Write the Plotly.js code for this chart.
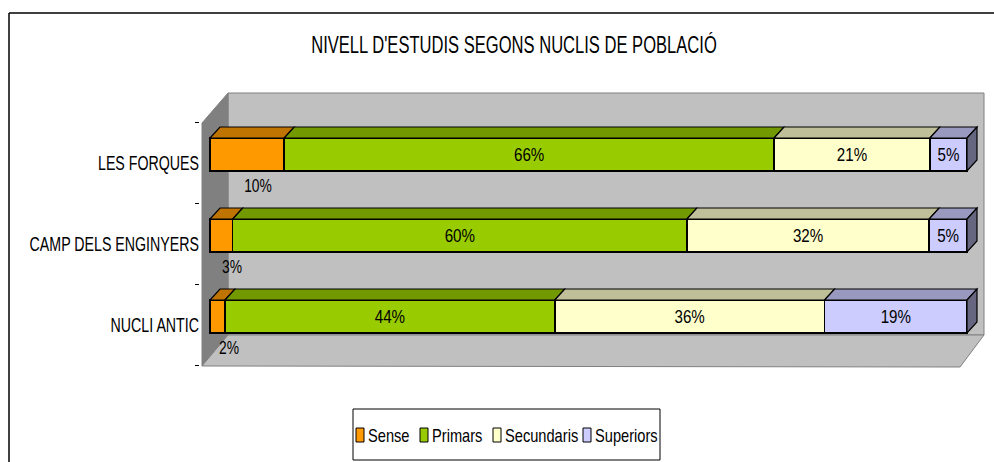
<!DOCTYPE html>
<html><head><meta charset="utf-8">
<script src="https://cdn.plot.ly/plotly-3.0.1.min.js"></script>
<style>
html,body{margin:0;padding:0;background:#fff;}
#chart{width:994px;height:462px;}
</style>
</head><body>
<div id="chart"></div>
<script>
// ---- data ----
const categories = ['NUCLI ANTIC', 'CAMP DELS ENGINYERS', 'LES FORQUES'];
const seriesNames = ['Sense', 'Primars', 'Secundaris', 'Superiors'];
const sense      = [2, 3, 10];
const primars    = [44, 60, 66];
const secundaris = [36, 32, 21];
const superiors  = [19, 5, 5];
const titleText = "NIVELL D'ESTUDIS SEGONS NUCLIS DE POBLACIÓ";

// ---- styles ----
const frontColors = ['#FF9900', '#99CC00', '#FFFFCC', '#CCCCFF'];
const topColors   = ['#BF7300', '#739900', '#BFBF99', '#9999BF'];
const sideColor   = '#666680';
const FONT = "'Liberation Sans', Arial, sans-serif";

// ---- layout geometry (pixels) ----
const W = 994, H = 462;
const M = {l: 200, r: 6, t: 85, b: 88};
const X0PX = 210, X100PX = 967;           // pixel of 0% and 100%
const Y2PX = 154.5, Y0PX = 316.5;         // pixel centre of top and bottom bar
const kx = (X100PX - X0PX) / 100;
const ky = (Y0PX - Y2PX) / 2;
const xRange = [(M.l - X0PX) / kx, (W - M.r - X0PX) / kx];
const yRange = [-((H - M.b) - Y0PX) / ky, 2 + (Y2PX - M.t) / ky];
const toX = px => (px - X0PX) / kx;
const toY = py => (Y0PX - py) / ky;
const PX = px => (px - M.l) / (W - M.l - M.r);
const PY = py => ((H - M.b) - py) / (H - M.t - M.b);
const BW = 33 / ky;                 // bar thickness
const DX = 10 / kx, DY = 11 / ky;   // depth offsets

const series = [sense, primars, secundaris, superiors];
const pos = categories.map((c, i) => i);

const traces = series.map((vals, s) => ({
  type: 'bar', orientation: 'h', name: seriesNames[s],
  x: vals, y: pos, width: BW,
  marker: {color: frontColors[s], line: {color: '#000', width: 1.5}},
  text: s === 0 ? vals.map(() => '') : vals.map(v => v + '%'),
  textposition: s === 0 ? 'none' : 'inside',
  insidetextanchor: 'middle',
  constraintext: 'none',
  textangle: 0,
  textfont: {family: FONT, size: 18, color: '#000'},
  hoverinfo: 'skip', showlegend: false, cliponaxis: false
}));

const shapes = [];
// back wall, side wall, floor
shapes.push({type: 'rect', xref: 'x', yref: 'y', layer: 'below',
  x0: toX(228), x1: toX(984), y0: toY(335), y1: toY(93),
  fillcolor: '#C0C0C0', line: {color: '#808080', width: 1}});
shapes.push({type: 'path', xref: 'x', yref: 'y', layer: 'below',
  path: `M${toX(202)},${toY(123)} L${toX(228)},${toY(93)} L${toX(228)},${toY(335)} L${toX(202)},${toY(366)} Z`,
  fillcolor: '#808080', line: {color: '#808080', width: 1}});
shapes.push({type: 'path', xref: 'x', yref: 'y', layer: 'below',
  path: `M${toX(202)},${toY(366)} L${toX(228)},${toY(335)} L${toX(984)},${toY(335)} L${toX(960)},${toY(367)} Z`,
  fillcolor: '#C0C0C0', line: {color: '#808080', width: 1}});

// 3D faces from data
const annotations = [];
pos.forEach((p, i) => {
  const total = series.reduce((a, arr) => a + arr[i], 0);
  let cum = 0;
  const yt = p + BW / 2, yb = p - BW / 2;
  series.forEach((arr, s) => {
    const w = arr[i] / total * 100;
    const x0 = cum, x1 = cum + w;
    shapes.push({type: 'path', xref: 'x', yref: 'y', layer: 'above',
      path: `M${x0},${yt} L${x1},${yt} L${x1 + DX},${yt + DY} L${x0 + DX},${yt + DY} Z`,
      fillcolor: topColors[s], line: {color: '#000', width: 1.2}});
    if (s === 0) {
      annotations.push({x: w / 2, y: yb, xref: 'x', yref: 'y', xanchor: 'center', yanchor: 'top',
        xshift: 11, yshift: -3, showarrow: false, text: arr[i] + '%',
        font: {family: FONT, size: 18, color: '#000'}});
    }
    cum = x1;
  });
  shapes.push({type: 'path', xref: 'x', yref: 'y', layer: 'above',
    path: `M${cum},${yb} L${cum},${yt} L${cum + DX},${yt + DY} L${cum + DX},${yb + DY} Z`,
    fillcolor: sideColor, line: {color: '#000', width: 1.2}});
});

// chart frame
shapes.push({type: 'line', xref: 'paper', yref: 'paper', x0: PX(9), x1: PX(994), y0: PY(13), y1: PY(13), line: {color: '#000', width: 1.5}});
shapes.push({type: 'line', xref: 'paper', yref: 'paper', x0: PX(9), x1: PX(9), y0: PY(13), y1: PY(462), line: {color: '#000', width: 1.5}});

// legend (box, swatches, names)
const legendX = [356, 420, 493, 583];
shapes.push({type: 'rect', xref: 'paper', yref: 'paper', x0: PX(353), x1: PX(660), y0: PY(409), y1: PY(460),
  line: {color: '#000', width: 1}, fillcolor: 'rgba(0,0,0,0)'});
seriesNames.forEach((n, s) => {
  shapes.push({type: 'rect', xref: 'paper', yref: 'paper', x0: PX(legendX[s]), x1: PX(legendX[s] + 8),
    y0: PY(442), y1: PY(428), fillcolor: frontColors[s], line: {color: '#000', width: 1}});
  annotations.push({xref: 'paper', yref: 'paper', x: PX(legendX[s] + 10), y: PY(435.5),
    xanchor: 'left', yanchor: 'middle', align: 'left', showarrow: false, text: n,
    font: {family: FONT, size: 19, color: '#000'}});
});

const layout = {
  width: W, height: H,
  margin: M,
  paper_bgcolor: '#fff', plot_bgcolor: 'rgba(0,0,0,0)',
  barmode: 'stack', barnorm: 'percent',
  showlegend: false,
  title: {text: titleText, x: 514 / W, xref: 'container', xanchor: 'center',
    y: 1 - 44.5 / H, yref: 'container', yanchor: 'middle',
    font: {family: FONT, size: 23, color: '#000'}},
  xaxis: {range: xRange, visible: false, fixedrange: true},
  yaxis: {range: yRange, tickmode: 'array', tickvals: pos.map(p => p - 0.11), ticktext: categories,
    ticks: '', showgrid: false, zeroline: false, showline: false, fixedrange: true,
    tickfont: {family: FONT, size: 20, color: '#000'},
    minor: {tickmode: 'array', tickvals: [-0.61, 0.39, 1.39, 2.39], ticks: 'outside', ticklen: 4, tickcolor: '#000', showgrid: false}},
  shapes, annotations
};

// horizontally squeezed lettering, as in the reference
function squeeze(sel, f) {
  document.querySelectorAll('#chart ' + sel).forEach(t => {
    const w = t.getComputedTextLength();
    if (w > 0) {
      t.setAttribute('textLength', (w * f).toFixed(1));
      t.setAttribute('lengthAdjust', 'spacingAndGlyphs');
    }
  });
}
Plotly.newPlot('chart', [...traces], layout, {staticPlot: true, displayModeBar: false}).then(() => {
  squeeze('.gtitle', 0.72);
  squeeze('.ytick text', 0.71);
  squeeze('.bartext', 0.84);
  squeeze('.annotation-text', 0.77);
});
</script>
</body></html>
